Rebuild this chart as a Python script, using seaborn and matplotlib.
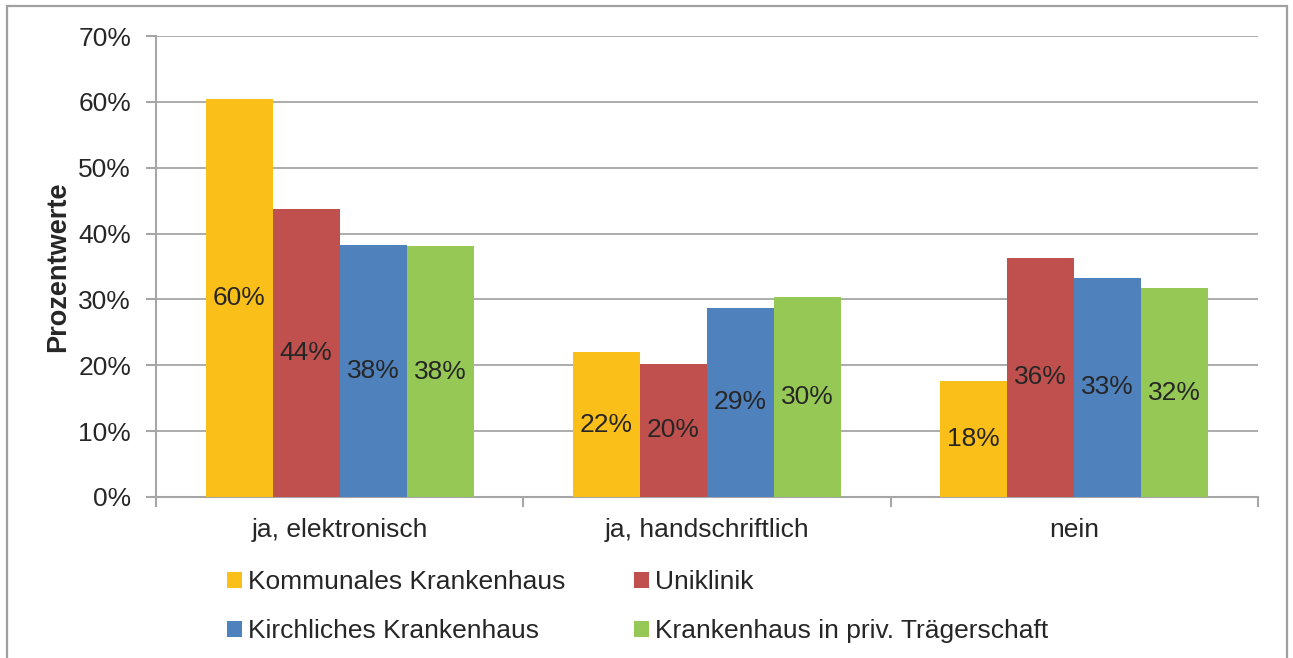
import matplotlib
matplotlib.use("Agg")
import matplotlib.pyplot as plt
import matplotlib.patches as mpatches
import seaborn as sns
import pandas as pd

categories = ["ja, elektronisch", "ja, handschriftlich", "nein"]
series = ["Kommunales Krankenhaus", "Uniklinik", "Kirchliches Krankenhaus",
          "Krankenhaus in priv. Trägerschaft"]
kommunal = [60.4, 22.0, 17.6]
uniklinik = [43.7, 20.2, 36.3]
kirchlich = [38.2, 28.7, 33.3]
privat = [38.1, 30.4, 31.7]
bar_labels = {
    "Kommunales Krankenhaus": ["60%", "22%", "18%"],
    "Uniklinik": ["44%", "20%", "36%"],
    "Kirchliches Krankenhaus": ["38%", "29%", "33%"],
    "Krankenhaus in priv. Trägerschaft": ["38%", "30%", "32%"],
}
colors = ["#FBBF1A", "#C0504D", "#4F81BD", "#96C856"]
yticks = [0, 10, 20, 30, 40, 50, 60, 70]
ytick_labels = ["0%", "10%", "20%", "30%", "40%", "50%", "60%", "70%"]

rows = []
for s, vals in zip(series, [kommunal, uniklinik, kirchlich, privat]):
    for c, v in zip(categories, vals):
        rows.append({"Kategorie": c, "Träger": s, "Wert": v})
df = pd.DataFrame(rows)

sns.set_theme(style="white")
plt.rcParams["font.family"] = ["Liberation Sans", "DejaVu Sans"]
TXT = "#262626"
GRID = "#A6A6A6"

fig = plt.figure(figsize=(12.93, 6.58), dpi=100)
ax = fig.add_axes([156 / 1293, 1 - 497 / 658, (1258 - 156) / 1293, (497 - 36) / 658])

sns.barplot(data=df, x="Kategorie", y="Wert", hue="Träger", order=categories,
            hue_order=series, palette=colors, width=0.73, saturation=1,
            linewidth=0, ax=ax, legend=False, zorder=3)

for cont, s in zip(ax.containers, series):
    ax.bar_label(cont, labels=bar_labels[s], label_type="center",
                 fontsize=19, color=TXT)

ax.set_xlim(-0.5, 2.5)
ax.set_ylim(0, 70)
ax.set_yticks(yticks)
ax.set_yticklabels(ytick_labels)
ax.yaxis.grid(True, color=GRID, linewidth=1.3, zorder=0)
ax.set_axisbelow(True)
for sp in ["top", "right"]:
    ax.spines[sp].set_visible(False)
for sp in ["left", "bottom"]:
    ax.spines[sp].set_color(GRID)
    ax.spines[sp].set_linewidth(1.5)

ax.set_xticks([-0.5, 0.5, 1.5, 2.5], minor=True)
ax.tick_params(axis="x", which="minor", length=7, width=1.5, color=GRID, bottom=True)
ax.tick_params(axis="x", which="major", length=0, pad=15, labelsize=19, labelcolor=TXT)
ax.tick_params(axis="y", length=7, width=1.5, color=GRID, left=True, pad=11,
               labelsize=19, labelcolor=TXT)
ax.set_xlabel("")
ax.set_ylabel("Prozentwerte", fontsize=19.5, fontweight="bold", color=TXT, labelpad=5)

order = [0, 2, 1, 3]
handles = [mpatches.Patch(facecolor=colors[i], edgecolor="none") for i in order]
labels = [series[i] for i in order]
fig.legend(handles, labels, ncol=2, loc="upper left",
           bbox_to_anchor=(227 / 1293, 1 - 570 / 658), frameon=False,
           fontsize=19, handlelength=0.55, handleheight=0.55, handletextpad=0.25,
           columnspacing=2.6, labelspacing=0.95, labelcolor=TXT, borderpad=0,
           borderaxespad=0)

fig.patches.append(mpatches.Rectangle((7 / 1293, -0.05), (1287 - 7) / 1293, 1.05 - 6 / 658,
                                      transform=fig.transFigure, fill=False,
                                      edgecolor="#A0A0A0", linewidth=1.6))

fig.savefig("out.png", dpi=100)
